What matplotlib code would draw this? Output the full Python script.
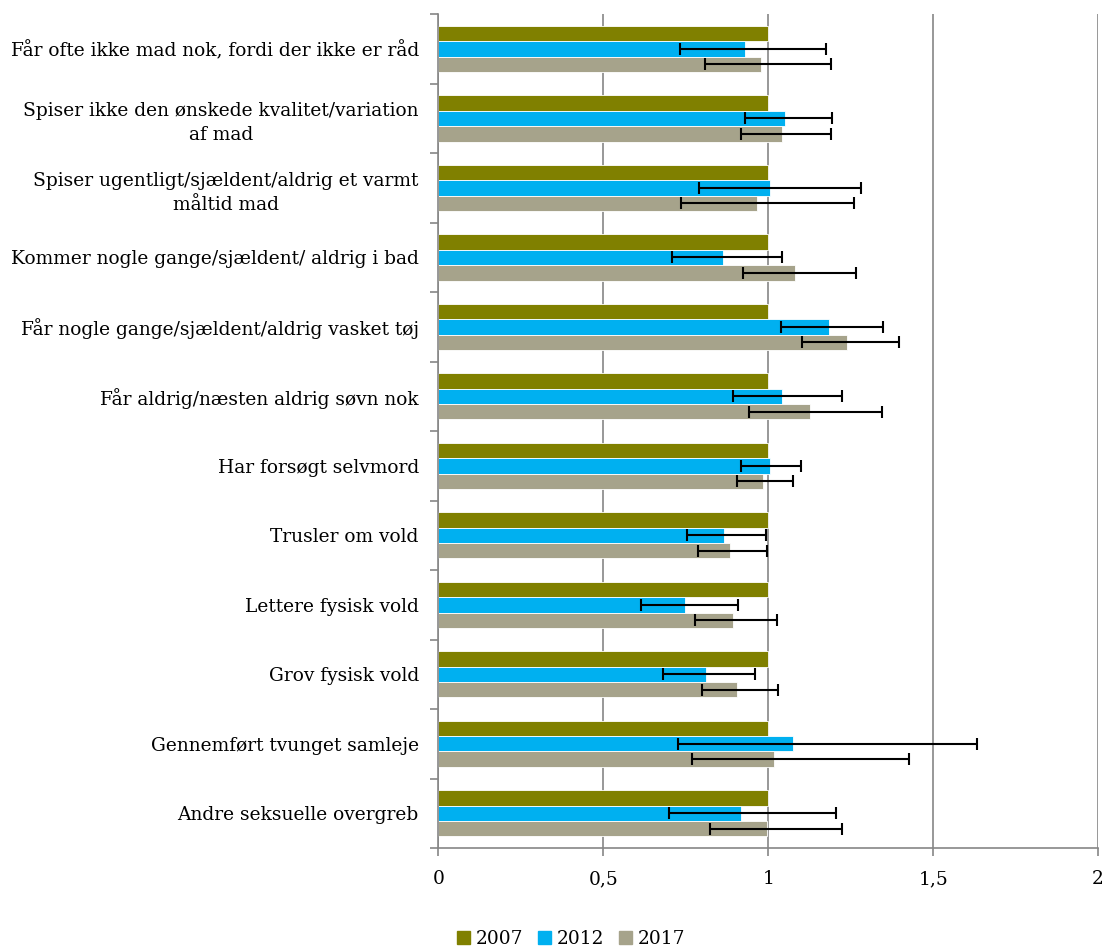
import numpy as np
import matplotlib.pyplot as plt
from matplotlib.patches import Patch

# data (relative risk, 2007 = 1)
categories = [
    'Får ofte ikke mad nok, fordi der ikke er råd',
    'Spiser ikke den ønskede kvalitet/variation\naf mad',
    'Spiser ugentligt/sjældent/aldrig et varmt\nmåltid mad',
    'Kommer nogle gange/sjældent/ aldrig i bad',
    'Får nogle gange/sjældent/aldrig vasket tøj',
    'Får aldrig/næsten aldrig søvn nok',
    'Har forsøgt selvmord',
    'Trusler om vold',
    'Lettere fysisk vold',
    'Grov fysisk vold',
    'Gennemført tvunget samleje',
    'Andre seksuelle overgreb',
]
years = ['2007', '2012', '2017']

v2007 = [1, 1, 1, 1, 1, 1, 1, 1, 1, 1, 1, 1]
v2012 = [0.931, 1.050, 1.004, 0.863, 1.183, 1.042, 1.004, 0.865, 0.749, 0.811, 1.074, 0.919]
v2017 = [0.978, 1.043, 0.966, 1.082, 1.238, 1.128, 0.985, 0.883, 0.893, 0.905, 1.018, 0.997]

# confidence intervals
lo2012 = [0.733, 0.929, 0.789, 0.709, 1.039, 0.894, 0.918, 0.754, 0.614, 0.682, 0.726, 0.699]
hi2012 = [1.174, 1.193, 1.282, 1.042, 1.349, 1.223, 1.098, 0.992, 0.909, 0.960, 1.632, 1.205]
lo2017 = [0.808, 0.917, 0.737, 0.924, 1.102, 0.943, 0.906, 0.786, 0.778, 0.798, 0.769, 0.824]
hi2017 = [1.189, 1.190, 1.261, 1.266, 1.396, 1.346, 1.075, 0.996, 1.027, 1.031, 1.427, 1.223]

colors = ['#808000', '#00B0F0', '#A6A38B']

plt.rcParams['font.family'] = ['DejaVu Serif']
plt.rcParams['font.size'] = 13.4

fig = plt.figure(figsize=[11.04, 9.48], dpi=100)
ax = fig.add_axes([0.397, 0.1055, 0.5977, 0.8795])

y = np.arange(len(categories))
h = 0.222

ax.barh(y - h, v2007, height=h, color=colors[0], edgecolor='white', linewidth=0.6, zorder=2)
ax.barh(y, v2012, height=h, color=colors[1], edgecolor='white', linewidth=0.6, zorder=2)
ax.barh(y + h, v2017, height=h, color=colors[2], edgecolor='white', linewidth=0.6, zorder=2)

v2012 = np.array(v2012)
v2017 = np.array(v2017)
err12 = [v2012 - np.array(lo2012), np.array(hi2012) - v2012]
err17 = [v2017 - np.array(lo2017), np.array(hi2017) - v2017]
ax.errorbar(v2012, y, xerr=err12, fmt='none', ecolor='black', elinewidth=1.5,
            capsize=4, capthick=1.5, zorder=3)
ax.errorbar(v2017, y + h, xerr=err17, fmt='none', ecolor='black', elinewidth=1.5,
            capsize=4, capthick=1.5, zorder=3)

ax.set_xlim(0, 2)
ax.set_ylim(len(categories) - 0.5, -0.5)

ax.set_xticks([0, 0.5, 1, 1.5, 2])
ax.set_xticklabels(['0', '0,5', '1', '1,5', '2'])
ax.xaxis.grid(True, color='#868686', linewidth=1.2, zorder=0)
ax.set_axisbelow(True)

# ticks between categories, labels at centers
ax.set_yticks(np.arange(len(categories) + 1) - 0.5)
ax.set_yticklabels([])
ax.set_yticks(y, minor=True)
ax.set_yticklabels(categories, minor=True, multialignment='center', linespacing=1.4)
ax.tick_params(axis='y', which='major', length=6, color='#868686', width=1.2)
ax.tick_params(axis='y', which='minor', length=0, pad=14)
ax.tick_params(axis='x', length=6, color='#868686', width=1.2, pad=10)

for s in ['top', 'right']:
    ax.spines[s].set_visible(False)
for s in ['left', 'bottom']:
    ax.spines[s].set_color('#868686')
    ax.spines[s].set_linewidth(1.2)

handles = [Patch(color=c, label=l) for c, l in zip(colors, years)]
fig.legend(handles=handles, loc='lower center', bbox_to_anchor=(0.517, -0.018), ncol=3,
           frameon=False, handlelength=0.7, handleheight=0.7, handletextpad=0.3,
           columnspacing=0.8)

plt.savefig('out.png', dpi=100)
